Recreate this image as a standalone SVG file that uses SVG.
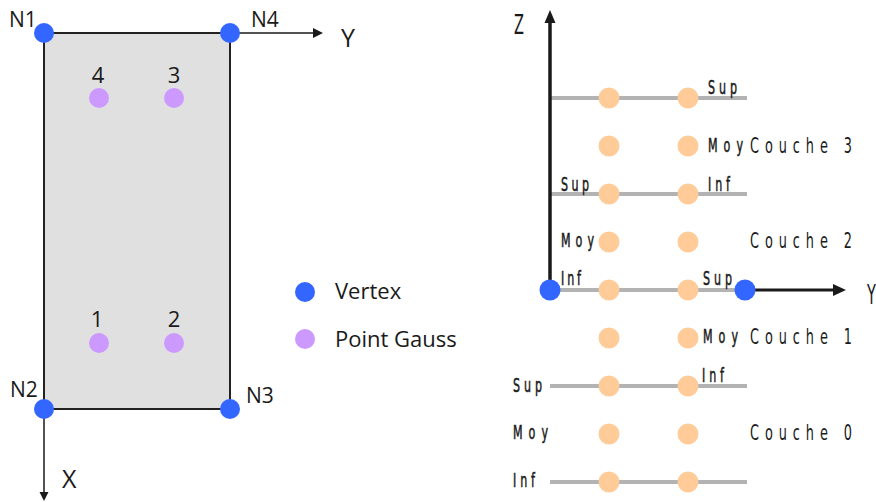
<svg xmlns="http://www.w3.org/2000/svg" width="876" height="502" viewBox="0 0 876 502">
<style>
.ax{stroke:#1a1a1a;fill:none}
.ah{fill:#1a1a1a}
.lay{stroke:#b3b3b3;stroke-width:4}
.vx{fill:#3366ff}
.gp{fill:#cc99ff}
.op{fill:#ffcc99}
.t{font-family:"Open Sans","DejaVu Sans",sans-serif;fill:#1a1a1a}
.c{font-family:"DejaVu Sans Condensed","DejaVu Sans",sans-serif;fill:#1a1a1a}
.s{font-size:19px;stroke:#1a1a1a;stroke-width:0.5}
.b{font-size:22px}
</style>
<rect width="876" height="502" fill="#ffffff"/>
<g id="element">
<rect x="44" y="33" width="186" height="376" fill="#e0e0e0" stroke="#222" stroke-width="2"/>
</g>
<g id="connectors">
<line class="ax" x1="230" y1="33" x2="314" y2="33" stroke-width="1.5"/>
<polygon class="ah" points="313,28 323,33 313,38"/>
<line class="ax" x1="44" y1="409" x2="44" y2="493" stroke-width="1.5"/>
<polygon class="ah" points="39.5,492 44,501 48.5,492"/>
<line class="lay" x1="550" y1="98" x2="747" y2="98"/>
<line class="lay" x1="550" y1="194" x2="747" y2="194"/>
<line class="lay" x1="550" y1="290" x2="747" y2="290"/>
<line class="lay" x1="550" y1="386" x2="747" y2="386"/>
<line class="lay" x1="550" y1="482" x2="747" y2="482"/>
<line class="ax" x1="550" y1="290" x2="550" y2="22" stroke-width="3.5"/>
<polygon class="ah" points="544.5,23 550,10 555.5,23"/>
<line class="ax" x1="745" y1="290" x2="834" y2="290" stroke-width="3"/>
<polygon class="ah" points="833,284 846,290 833,296"/>
</g>
<g id="N1"><circle class="vx" cx="44" cy="33" r="10"/><text class="t" x="9" y="27" font-size="21">N1</text></g>
<g id="N4"><circle class="vx" cx="230" cy="33" r="10"/><text class="t" x="251" y="27" font-size="21">N4</text></g>
<g id="N2"><circle class="vx" cx="44" cy="409" r="10"/><text class="t" x="10" y="397" font-size="21">N2</text></g>
<g id="N3"><circle class="vx" cx="230" cy="409" r="10"/><text class="t" x="246" y="403" font-size="21">N3</text></g>
<g id="axisY-left"><text class="t" x="341" y="47" font-size="25">Y</text></g>
<g id="axisX-left"><text class="t" x="62" y="488" font-size="25">X</text></g>
<g id="G4"><circle class="gp" cx="99" cy="98" r="10"/><text class="t" x="98" y="83" font-size="22" text-anchor="middle">4</text></g>
<g id="G3"><circle class="gp" cx="174" cy="98" r="10"/><text class="t" x="174" y="83" font-size="22" text-anchor="middle">3</text></g>
<g id="G1"><circle class="gp" cx="99" cy="343" r="10"/><text class="t" x="97" y="327" font-size="22" text-anchor="middle">1</text></g>
<g id="G2"><circle class="gp" cx="174" cy="343" r="10"/><text class="t" x="174" y="327" font-size="22" text-anchor="middle">2</text></g>
<g id="legend">
<circle class="vx" cx="305" cy="292" r="10"/>
<text class="t" x="335" y="299" font-size="22">Vertex</text>
<circle class="gp" cx="305" cy="339" r="10"/>
<text class="t" x="335" y="347" font-size="22">Point Gauss</text>
</g>
<g id="points">
<circle class="op" cx="609" cy="98" r="10.5"/><circle class="op" cx="688" cy="98" r="10.5"/>
<circle class="op" cx="609" cy="146" r="10.5"/><circle class="op" cx="688" cy="146" r="10.5"/>
<circle class="op" cx="609" cy="194" r="10.5"/><circle class="op" cx="688" cy="194" r="10.5"/>
<circle class="op" cx="609" cy="242" r="10.5"/><circle class="op" cx="688" cy="242" r="10.5"/>
<circle class="op" cx="609" cy="290" r="10.5"/><circle class="op" cx="688" cy="290" r="10.5"/>
<circle class="op" cx="609" cy="338" r="10.5"/><circle class="op" cx="688" cy="338" r="10.5"/>
<circle class="op" cx="609" cy="386" r="10.5"/><circle class="op" cx="688" cy="386" r="10.5"/>
<circle class="op" cx="609" cy="434" r="10.5"/><circle class="op" cx="688" cy="434" r="10.5"/>
<circle class="op" cx="609" cy="482" r="10.5"/><circle class="op" cx="688" cy="482" r="10.5"/>
</g>
<g id="origin"><circle class="vx" cx="550" cy="290" r="10.5"/></g>
<g id="Yend"><circle class="vx" cx="745" cy="290" r="10.5"/></g>
<g id="axis-labels-right">
<text class="c" transform="translate(514,34) scale(0.62 1)" font-size="26">Z</text>
<text class="c" transform="translate(867,304) scale(0.62 1)" font-size="26">Y</text>
</g>
<g id="layer-labels">
<text class="c s" transform="translate(708,94) scale(0.65 1)" textLength="44.6" lengthAdjust="spacing">Sup</text>
<text class="c s" transform="translate(708,152) scale(0.65 1)" textLength="53.8" lengthAdjust="spacing">Moy</text>
<text class="c s" transform="translate(561,191) scale(0.65 1)" textLength="43" lengthAdjust="spacing">Sup</text>
<text class="c s" transform="translate(708,191) scale(0.65 1)" textLength="33.8" lengthAdjust="spacing">Inf</text>
<text class="c s" transform="translate(561,247) scale(0.65 1)" textLength="50.8" lengthAdjust="spacing">Moy</text>
<text class="c s" transform="translate(561,285) scale(0.65 1)" textLength="30.8" lengthAdjust="spacing">Inf</text>
<text class="c s" transform="translate(703,285) scale(0.65 1)" textLength="44.6" lengthAdjust="spacing">Sup</text>
<text class="c s" transform="translate(703,343) scale(0.65 1)" textLength="53.8" lengthAdjust="spacing">Moy</text>
<text class="c s" transform="translate(702,382) scale(0.65 1)" textLength="33.8" lengthAdjust="spacing">Inf</text>
<text class="c s" transform="translate(513,392) scale(0.65 1)" textLength="44.6" lengthAdjust="spacing">Sup</text>
<text class="c s" transform="translate(513,439) scale(0.65 1)" textLength="53.8" lengthAdjust="spacing">Moy</text>
<text class="c s" transform="translate(513,487) scale(0.65 1)" textLength="33.8" lengthAdjust="spacing">Inf</text>
</g>
<g id="couches">
<text class="c b" transform="translate(750,153) scale(0.65 1)" textLength="157" lengthAdjust="spacing">Couche 3</text>
<text class="c b" transform="translate(750,248) scale(0.65 1)" textLength="157" lengthAdjust="spacing">Couche 2</text>
<text class="c b" transform="translate(750,344) scale(0.65 1)" textLength="157" lengthAdjust="spacing">Couche 1</text>
<text class="c b" transform="translate(750,440) scale(0.65 1)" textLength="157" lengthAdjust="spacing">Couche 0</text>
</g>
</svg>
